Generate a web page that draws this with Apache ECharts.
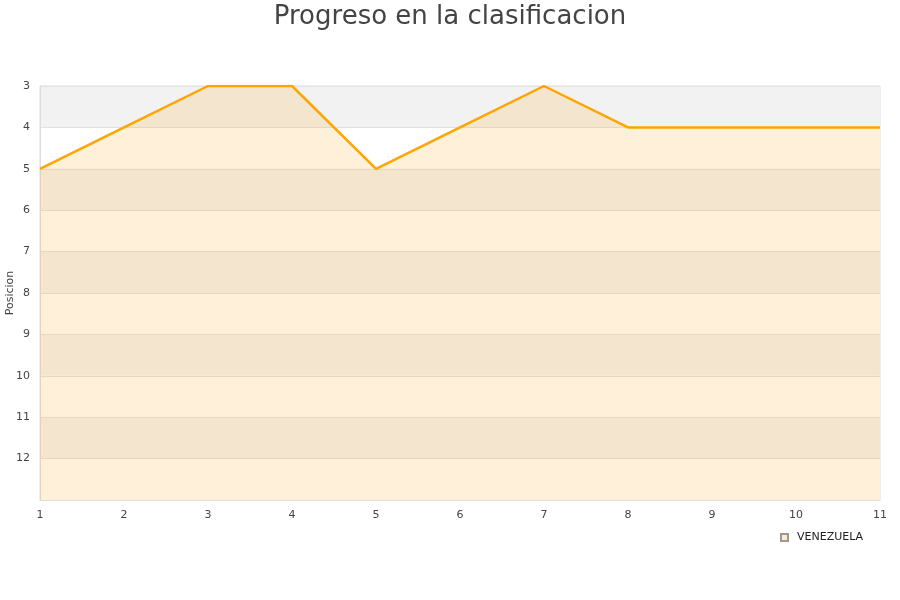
<!DOCTYPE html>
<html><head><meta charset="utf-8">
<script src="https://cdn.jsdelivr.net/npm/echarts@6/dist/echarts.min.js"></script>
<style>html,body{margin:0;padding:0;background:#fff}#c{width:900px;height:600px}</style>
</head><body><div id="c"></div>
<script>
const categories = ['1','2','3','4','5','6','7','8','9','10','11'];
const venezuela = [5,4,3,3,5,4,3,4,4,4,4];
const seriesName = 'VENEZUELA';
const chart = echarts.init(document.getElementById('c'), null, {renderer:'canvas'});
chart.setOption({
  animation:false,
  backgroundColor:'#fff',
  title:{text:'Progreso en la clasificacion',left:'center',top:-1,textStyle:{fontFamily:'DejaVu Sans',fontSize:26,fontWeight:'normal',color:'#444'}},
  grid:{left:40,right:20,top:86,bottom:100,containLabel:false,outerBoundsMode:'none',show:true,borderColor:'#ddd',borderWidth:1,backgroundColor:'transparent'},
  legend:{data:[{name:seriesName,icon:'rect'}],left:775,top:527,itemWidth:7,itemHeight:7,
    textStyle:{fontFamily:'DejaVu Sans',fontSize:11,color:'#222',padding:[0,0,0,4]}},
  xAxis:{type:'category',data:categories,boundaryGap:false,
    axisLine:{lineStyle:{color:'#ddd'}},axisTick:{show:false},
    axisLabel:{color:'#444',fontFamily:'DejaVu Sans',fontSize:11,margin:10},splitLine:{show:false}},
  yAxis:{type:'value',inverse:true,min:3,max:13,interval:1,name:'Posicion',nameLocation:'middle',nameGap:24,nameMoveOverlap:false,
    nameTextStyle:{fontFamily:'DejaVu Sans',fontSize:11,color:'#444'},
    axisLine:{show:true,lineStyle:{color:'#ddd'}},axisTick:{show:false},
    axisLabel:{color:'#444',fontFamily:'DejaVu Sans',fontSize:11,margin:10,showMaxLabel:false,
      formatter:v=>v===13?'':String(v)},
    splitLine:{show:true,lineStyle:{color:'#e2e2e2'}},
    splitArea:{show:true,areaStyle:{color:['#f2f2f2','#ffffff']}}},
  series:[{name:seriesName,type:'line',data:venezuela,symbol:'none',
    lineStyle:{color:'#ffa500',width:2.5},itemStyle:{color:'#fdebcb',borderColor:'#999',borderWidth:1},
    areaStyle:{color:'rgba(255,160,0,0.21)',origin:'end'}}]
});
</script></body></html>
